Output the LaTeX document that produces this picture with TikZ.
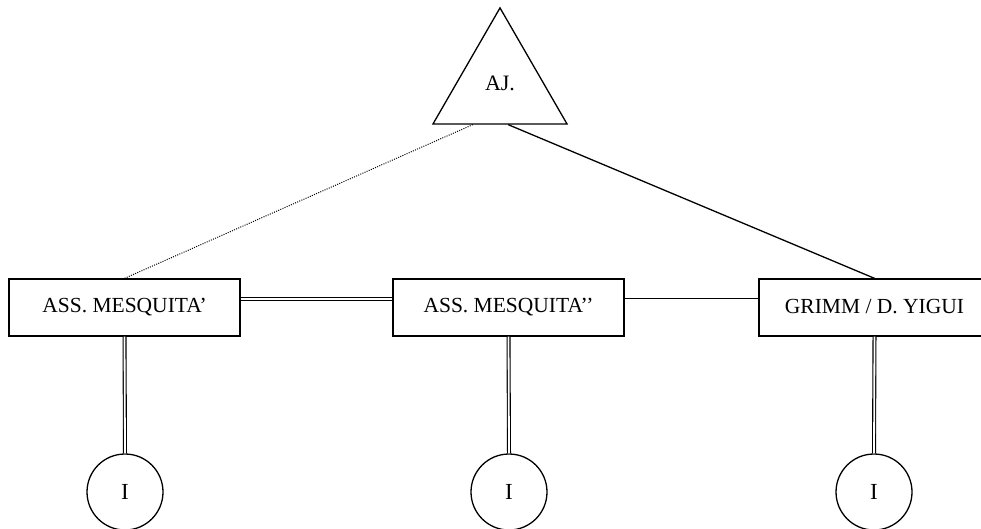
\documentclass[tikz,border=0pt]{standalone}
\usepackage{fontspec}
\setmainfont{Liberation Serif}
\usetikzlibrary{shapes.geometric,calc}
\begin{document}
\begin{tikzpicture}[x=1pt,y=-1pt,
  line width=1.3pt,
  person/.style={draw, rectangle, minimum width=231pt, minimum height=57pt, inner sep=0pt, font=\fontsize{21.5}{24}\selectfont},
  ego/.style={draw, circle, minimum size=76pt, inner sep=0pt, font=\fontsize{23}{25}\selectfont},
  grp/.style={draw, regular polygon, regular polygon sides=3, minimum size=154.8pt, inner sep=0pt, font=\fontsize{22}{24}\selectfont},
  dbl/.style={double, double distance=1.8pt, line width=1.1pt},
  dotline/.style={line width=1pt, dash pattern=on 1pt off 1.3pt}
]
\useasboundingbox (0,0) rectangle (981,529);
\node[grp] (aj) at (500,85.3) {\raisebox{5pt}{AJ.}};
\node[person] (lb) at (124.5,307.5) {\raisebox{3pt}{ASS. MESQUITA’}};
\node[person] (mb) at (508.5,307.5) {\raisebox{3pt}{ASS. MESQUITA’’}};
\node[person] (rb) at (874.5,307.5) {\raisebox{3pt}{GRIMM / D. YIGUI}};
\node[ego] (c1) at (125,492) {I};
\node[ego] (c2) at (509,492) {I};
\node[ego] (c3) at (874,492) {I};
\coordinate (ajl) at ($(aj.corner 2)!0.3!(aj.corner 3)$);
\coordinate (ajr) at ($(aj.corner 2)!0.56!(aj.corner 3)$);
\draw[dotline] (ajl) -- (lb.north);
\draw (ajr) -- (rb.north);
\draw[dbl] ([yshift=8.5pt]lb.east) -- ([yshift=8.5pt]mb.west);
\draw ([yshift=9pt]mb.east) -- ([yshift=9pt]rb.west);
\draw[dbl] (lb.south) -- (c1.north);
\draw[dbl] (mb.south) -- (c2.north);
\draw[dbl] (rb.south) -- (c3.north);
\end{tikzpicture}
\end{document}
